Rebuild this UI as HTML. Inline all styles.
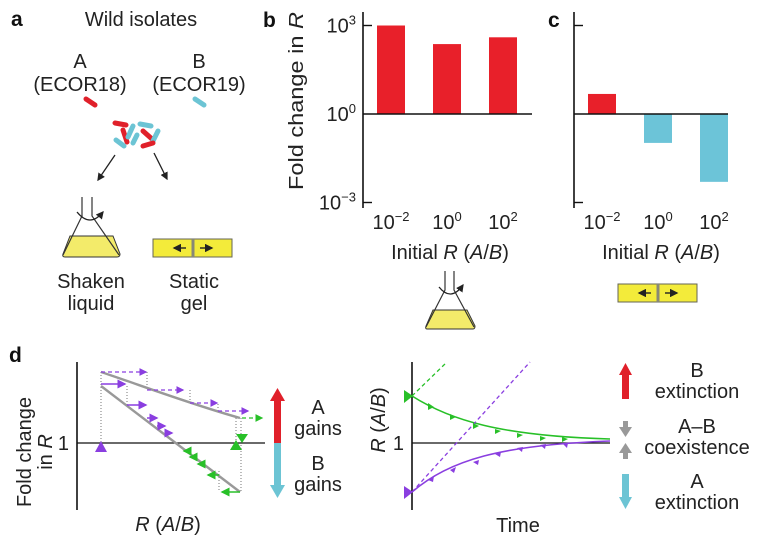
<!DOCTYPE html>
<html><head><meta charset="utf-8">
<style>
html,body{margin:0;padding:0;background:#fff;}
svg{display:block;font-family:"Liberation Sans",Arial,sans-serif;}
.t{font-size:20px;fill:#222;}
.s{font-size:13px;fill:#222;}
.L{font-size:21px;font-weight:bold;fill:#111;}
</style></head>
<body>
<svg id="fig" width="775" height="544" viewBox="0 0 775 544" xmlns="http://www.w3.org/2000/svg">
<defs>
<marker id="ak" markerWidth="6" markerHeight="6" refX="5" refY="3" orient="auto"><path d="M0,0L6,3L0,6Z" fill="#222"/></marker>
<marker id="ap" markerWidth="6" markerHeight="6" refX="5" refY="3" orient="auto"><path d="M0,0L6,3L0,6Z" fill="#8a3ee0"/></marker>
<marker id="ag" markerWidth="6" markerHeight="6" refX="5" refY="3" orient="auto"><path d="M0,0L6,3L0,6Z" fill="#28c028"/></marker>
</defs>

<!-- Panel a -->
<g>
<text class="L" x="11" y="26">a</text>
<text class="t" x="141" y="26" text-anchor="middle">Wild isolates</text>
<text class="t" x="80" y="68" text-anchor="middle">A</text>
<text class="t" x="80" y="91" text-anchor="middle">(ECOR18)</text>
<text class="t" x="199" y="68" text-anchor="middle">B</text>
<text class="t" x="199" y="91" text-anchor="middle">(ECOR19)</text>
<g stroke-linecap="round" stroke-width="5">
<line x1="86" y1="99" x2="95" y2="105" stroke="#e0202a"/>
<line x1="195" y1="99" x2="204" y2="105" stroke="#6cc4d4"/>
<line x1="115" y1="123" x2="126" y2="125" stroke="#e0202a"/>
<line x1="123" y1="130" x2="127" y2="142" stroke="#e0202a"/>
<line x1="133" y1="126" x2="128" y2="137" stroke="#6cc4d4"/>
<line x1="140" y1="124" x2="151" y2="126" stroke="#6cc4d4"/>
<line x1="143" y1="131" x2="152" y2="139" stroke="#e0202a"/>
<line x1="158" y1="131" x2="153" y2="141" stroke="#6cc4d4"/>
<line x1="116" y1="140" x2="124" y2="146" stroke="#6cc4d4"/>
<line x1="133" y1="143" x2="137" y2="135" stroke="#6cc4d4"/>
<line x1="143" y1="146" x2="153" y2="143" stroke="#e0202a"/>
</g>
<line x1="115" y1="155" x2="98" y2="180" stroke="#222" stroke-width="1.3" marker-end="url(#ak)"/>
<line x1="154" y1="153" x2="167" y2="179" stroke="#222" stroke-width="1.3" marker-end="url(#ak)"/>
<g>
<path d="M70,236 L113,236 L120,254 Q120,257 117,257 L65,257 Q62,257 63,254 Z" fill="#f3eb6a" stroke="#333" stroke-width="1"/>
<path d="M82,197 L82,216 L63,255 M92,197 L92,216 L119,255" fill="none" stroke="#333" stroke-width="1.2"/>
<path d="M77,212 Q90,228 103,212" fill="none" stroke="#222" stroke-width="1.3" marker-end="url(#ak)"/>
</g>
<g>
<rect x="153" y="239" width="79" height="18" fill="#f3eb3a" stroke="#665" stroke-width="1"/>
<line x1="193" y1="239" x2="193" y2="257" stroke="#887" stroke-width="3"/>
<line x1="186" y1="248" x2="174" y2="248" stroke="#222" stroke-width="1.4" marker-end="url(#ak)"/>
<line x1="200" y1="248" x2="212" y2="248" stroke="#222" stroke-width="1.4" marker-end="url(#ak)"/>
</g>
<text class="t" x="91" y="288" text-anchor="middle">Shaken</text>
<text class="t" x="91" y="310" text-anchor="middle">liquid</text>
<text class="t" x="194" y="288" text-anchor="middle">Static</text>
<text class="t" x="194" y="310" text-anchor="middle">gel</text>
</g>

<g id="bc"></g>

<!-- Panel d left -->
<g>
<text class="L" x="9" y="362">d</text>
<line x1="77" y1="362" x2="77" y2="510" stroke="#111" stroke-width="1.6"/>
<line x1="77" y1="443" x2="265" y2="443" stroke="#111" stroke-width="1.3"/>
<text class="t" x="69" y="450" text-anchor="end">1</text>
<text class="t" transform="translate(31,452) rotate(-90)" text-anchor="middle">Fold change</text>
<text class="t" transform="translate(52,452) rotate(-90)" text-anchor="middle">in <tspan font-style="italic">R</tspan></text>
<text class="t" x="168" y="531" text-anchor="middle"><tspan font-style="italic">R</tspan> (<tspan font-style="italic">A</tspan>/<tspan font-style="italic">B</tspan>)</text>
<g stroke="#555" stroke-width="0.8" stroke-dasharray="1,2" fill="none">
<path d="M101,372V443M147,372V390M190,390V404M218,404V411M236,418V443M241,418V492M127,386V405M219,471V492"/>
</g>
<path d="M101,372 C140,385 190,404 240,418" fill="none" stroke="#999" stroke-width="2.4"/>
<path d="M101,386 L240,492" fill="none" stroke="#999" stroke-width="2.4"/>
<g stroke="#8a3ee0" stroke-width="1.3" stroke-dasharray="4,3" fill="none">
<line x1="101" y1="372" x2="146" y2="372" marker-end="url(#ap)"/>
<line x1="147" y1="390" x2="183" y2="390" marker-end="url(#ap)"/>
<line x1="190" y1="403" x2="217" y2="403" marker-end="url(#ap)"/>
<line x1="218" y1="411" x2="248" y2="411" marker-end="url(#ap)"/>
<line x1="242" y1="418" x2="262" y2="418" stroke="#28c028" marker-end="url(#ag)"/>
</g>
<g stroke="#8a3ee0" stroke-width="1.5" fill="none">
<line x1="101" y1="384" x2="125" y2="384" marker-end="url(#ap)"/>
<line x1="127" y1="405" x2="146" y2="405" marker-end="url(#ap)"/>
<line x1="147" y1="418" x2="157" y2="418" marker-end="url(#ap)"/>
<line x1="157" y1="426" x2="165" y2="426" marker-end="url(#ap)"/>
<line x1="165" y1="433" x2="172" y2="433" marker-end="url(#ap)"/>
</g>
<g stroke="#28c028" stroke-width="1.5" fill="none">
<line x1="240" y1="492" x2="222" y2="492" marker-end="url(#ag)"/>
<line x1="219" y1="475" x2="208" y2="475" marker-end="url(#ag)"/>
<line x1="205" y1="464" x2="198" y2="464" marker-end="url(#ag)"/>
<line x1="196" y1="457" x2="190" y2="457" marker-end="url(#ag)"/>
<line x1="190" y1="451" x2="184" y2="451" marker-end="url(#ag)"/>
</g>
<path d="M95,452 L101,441 L107,452Z" fill="#8a3ee0"/>
<path d="M230,450 L236,440 L242,450Z" fill="#28c028"/>
<path d="M236,434 L248,434 L242,443Z" fill="#28c028"/>
<g>
<rect x="274" y="400" width="7" height="43" fill="#e0202a"/>
<path d="M270,401 L277.5,388 L285,401Z" fill="#e0202a"/>
<rect x="274" y="443" width="7" height="43" fill="#6cc4d4"/>
<path d="M270,485 L277.5,498 L285,485Z" fill="#6cc4d4"/>
</g>
<text class="t" x="318" y="414" text-anchor="middle">A</text>
<text class="t" x="318" y="435" text-anchor="middle">gains</text>
<text class="t" x="318" y="470" text-anchor="middle">B</text>
<text class="t" x="318" y="491" text-anchor="middle">gains</text>
</g>

<!-- Panel d right -->
<g>
<line x1="412" y1="362" x2="412" y2="510" stroke="#111" stroke-width="1.6"/>
<line x1="412" y1="443" x2="610" y2="443" stroke="#111" stroke-width="1.3"/>
<text class="t" x="404" y="450" text-anchor="end">1</text>
<text class="t" transform="translate(385,420) rotate(-90)" text-anchor="middle"><tspan font-style="italic">R</tspan> (<tspan font-style="italic">A</tspan>/<tspan font-style="italic">B</tspan>)</text>
<text class="t" x="518" y="532" text-anchor="middle">Time</text>
<path d="M412,396 C450,420 500,436 610,439" fill="none" stroke="#28c028" stroke-width="1.6"/>
<path d="M412,492 C450,460 500,445 610,441" fill="none" stroke="#8a3ee0" stroke-width="1.6"/>
<line x1="412" y1="396" x2="447" y2="362" stroke="#28c028" stroke-width="1.3" stroke-dasharray="4,3"/>
<line x1="412" y1="492" x2="530" y2="362" stroke="#8a3ee0" stroke-width="1.3" stroke-dasharray="4,3"/>
<g fill="#28c028"><path d="M428,403l6,4l-6,3z M450,414l6,3l-6,3z M473,423l6,3l-6,3z M495,429l6,2l-6,3z M517,433l6,2l-6,3z M540,436l6,2l-6,3z M562,437l6,2l-6,3z"/></g>
<g fill="#8a3ee0"><path d="M428,480l6,-4l-1,6z M450,470l6,-3l-2,6z M473,462l6,-2l-1,5z M495,454l6,-2l-1,5z M517,448l6,-1l-1,5z M540,445l6,-1l-1,5z M562,443l6,0l-1,5z"/></g>
<path d="M404,390 L413,396 L404,403Z" fill="#28c028"/>
<path d="M404,486 L413,492 L404,499Z" fill="#8a3ee0"/>
<g>
<rect x="622" y="373" width="7" height="26" fill="#e0202a"/><path d="M619,375 L625.5,363 L632,375Z" fill="#e0202a"/>
<rect x="623" y="421" width="5" height="7" fill="#999"/><path d="M619,427 L625.5,437 L632,427Z" fill="#999"/>
<rect x="623" y="452" width="5" height="7" fill="#999"/><path d="M619,453 L625.5,443 L632,453Z" fill="#999"/>
<rect x="622" y="474" width="7" height="26" fill="#6cc4d4"/><path d="M619,497 L625.5,509 L632,497Z" fill="#6cc4d4"/>
</g>
<text class="t" x="697" y="377" text-anchor="middle">B</text>
<text class="t" x="697" y="398" text-anchor="middle">extinction</text>
<text class="t" x="697" y="433" text-anchor="middle">A–B</text>
<text class="t" x="697" y="454" text-anchor="middle">coexistence</text>
<text class="t" x="697" y="488" text-anchor="middle">A</text>
<text class="t" x="697" y="509" text-anchor="middle">extinction</text>
</g>
</svg>
<script>
const categories = ["10^-2","10^0","10^2"];
const liquidValues = [3.0, 2.37, 2.6];   // log10 fold change, panel b
const gelValues = [0.68, -0.98, -2.3];    // log10 fold change, panel c
const yTicks = [3, 0, -3];
const yTickLabels = ["3","0","\u22123"];
const xTickExps = ["\u22122","0","2"];

const NS = "http://www.w3.org/2000/svg";
const root = document.getElementById("bc");
function yScale(v){ return 114 - v*29.5; }
function mk(tag, attrs, parent){ const e=document.createElementNS(NS,tag); for(const k in attrs) e.setAttribute(k,attrs[k]); (parent||root).appendChild(e); return e; }

function panel(ax, vals, letter, showLabels, nm, letterX){
  const g = mk("g",{});
  
  
  const lt = mk("text",{x:letterX, y:27, class:"L"}, g); lt.textContent = letter;
  
  
  const xs = i => ax + 14 + i*56;
  vals.forEach((v,i)=>{
    const y0 = yScale(0), y1 = yScale(v);
    const r = mk("rect",{x:xs(i), y:Math.min(y0,y1), width:28, height:Math.abs(y1-y0), fill: v>=0?"#e8202a":"#6cc4d8"}, g);
    
    
    const tx = mk("text",{x:xs(i)+14, y:229, class:"t", "text-anchor":"middle"}, g);
    
    
    tx.textContent = "10";
    const sp = document.createElementNS(NS,"tspan"); sp.setAttribute("class","s"); sp.setAttribute("dy","-8"); sp.textContent = xTickExps[i]; tx.appendChild(sp);
  });
  const axl = mk("line",{x1:ax, y1:12, x2:ax, y2:208, stroke:"#111","stroke-width":1.6}, g);
  
  
  const bl = mk("line",{x1:ax, y1:yScale(0), x2:ax+14+2*56+28+ (letter==="b"?15:0), y2:yScale(0), stroke:"#111","stroke-width":1.6}, g);
  
  
  yTicks.forEach((t,i)=>{
    if (t!==0) mk("line",{x1:ax, y1:yScale(t), x2:ax+9, y2:yScale(t), stroke:"#111","stroke-width":1.4}, g);
    if (showLabels){
      const tl = mk("text",{x:ax-7, y:yScale(t)+7, class:"t", "text-anchor":"end"}, g);
      
      
      tl.textContent = "10";
      const sp = document.createElementNS(NS,"tspan"); sp.setAttribute("class","s"); sp.setAttribute("dy","-8"); sp.textContent = yTickLabels[i]; tl.appendChild(sp);
    }
  });
  const xt = mk("text",{x:ax+87, y:259, class:"t", "text-anchor":"middle"}, g);
  
  
  xt.innerHTML = 'Initial <tspan font-style="italic">R</tspan> (<tspan font-style="italic">A</tspan>/<tspan font-style="italic">B</tspan>)';
  return g;
}
const gb = panel(363, liquidValues, "b", true, "panel-b-chart", 263);
const yt = mk("text",{class:"t", transform:"translate(303,101) rotate(-90)", "text-anchor":"middle", textLength:"178", lengthAdjust:"spacingAndGlyphs"}, gb);


yt.innerHTML = 'Fold change in <tspan font-style="italic">R</tspan>';
panel(574, gelValues, "c", false, "panel-c-chart", 548);

// flask under b
const fl = mk("g",{});


fl.innerHTML = '<path d="M433,310 L467,310 L475,326 Q475,329 473,329 L427,329 Q425,329 426,326 Z" fill="#f3eb6a" stroke="#333" stroke-width="1"/>'+
 '<path d="M445,271 L445,290 L426,327 M454,271 L454,290 L474,327" fill="none" stroke="#333" stroke-width="1.2"/>'+
 '<path d="M439,287 Q451,302 463,285" fill="none" stroke="#222" stroke-width="1.3" marker-end="url(#ak)"/>';
// gel under c
const gl = mk("g",{});


gl.innerHTML = '<rect x="618" y="284" width="79" height="18" fill="#f3eb3a" stroke="#665" stroke-width="1"/>'+
 '<line x1="658" y1="284" x2="658" y2="302" stroke="#887" stroke-width="3"/>'+
 '<line x1="651" y1="293" x2="639" y2="293" stroke="#222" stroke-width="1.4" marker-end="url(#ak)"/>'+
 '<line x1="665" y1="293" x2="677" y2="293" stroke="#222" stroke-width="1.4" marker-end="url(#ak)"/>';
</script>
</body></html>
